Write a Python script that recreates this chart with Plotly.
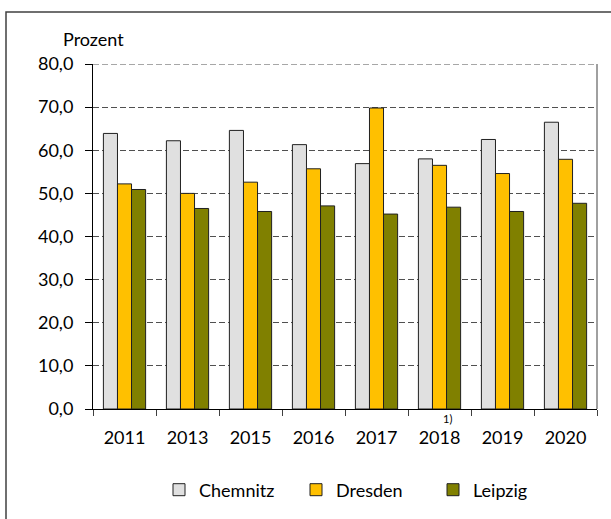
import plotly.graph_objects as go

# Jahre (Kategorien) und Anteile in Prozent je Stadt
jahre = ["2011", "2013", "2015", "2016", "2017", "2018", "2019", "2020"]
chemnitz = [63.9, 62.2, 64.6, 61.3, 56.9, 58.0, 62.5, 66.5]
dresden = [52.2, 50.0, 52.6, 55.7, 69.8, 56.5, 54.6, 57.9]
leipzig = [50.9, 46.5, 45.8, 47.1, 45.2, 46.8, 45.8, 47.7]

y_ticks = [0, 10, 20, 30, 40, 50, 60, 70, 80]
y_tick_text = [f"{v:.1f}".replace(".", ",") for v in y_ticks]

FONT = "Lato, 'Open Sans', sans-serif"

W, H = 611, 519
ML, MR, MT, MB = 93, 14, 64, 110
PW = W - ML - MR
PH = H - MT - MB


def px_x(px):
    return (px - ML) / PW


def px_y(py):
    return (H - MB - py) / PH


fig = go.Figure()
for name, vals, col in [
    ("Chemnitz", chemnitz, "#E0E0E0"),
    ("Dresden", dresden, "#FFC000"),
    ("Leipzig", leipzig, "#808000"),
]:
    fig.add_trace(go.Bar(
        name=name, x=jahre, y=vals,
        marker=dict(color=col, line=dict(color="#202020", width=1)),
        hoverinfo="x+y+name",
    ))

fig.update_layout(
    width=W, height=H,
    margin=dict(l=ML, r=MR, t=MT, b=MB, autoexpand=False),
    paper_bgcolor="white", plot_bgcolor="white",
    barmode="group", bargap=0.33, bargroupgap=0,
    font=dict(family=FONT, size=18, color="#000000"),
    showlegend=True,
    legend=dict(
        orientation="h", x=px_x(159), xanchor="left", y=px_y(490), yanchor="middle",
        font=dict(family=FONT, size=18, color="#000000"),
        entrywidth=92, entrywidthmode="pixels",
        itemclick=False, itemdoubleclick=False,
    ),
    xaxis=dict(
        type="category", tickson="boundaries",
        ticks="outside", ticklen=6, tickcolor="#404040",
        showline=True, linecolor="#000000", linewidth=1,
        showgrid=False, tickfont=dict(size=18),
        ticklabelstandoff=12, automargin=False,
    ),
    yaxis=dict(
        range=[0, 80], tickvals=y_ticks, ticktext=y_tick_text,
        ticks="outside", ticklen=7, tickcolor="#000000",
        showline=True, linecolor="#000000", linewidth=1,
        showgrid=True, gridcolor="#505050", griddash="6px,3px", gridwidth=1,
        zeroline=False, tickfont=dict(size=18),
        ticklabelstandoff=8, automargin=False,
    ),
    shapes=[
        # oberste Gitterlinie bei 80
        dict(type="line", xref="paper", yref="y", x0=0, x1=1, y0=80, y1=80,
             line=dict(color="#505050", width=1, dash="6px,3px")),
        # rechte Begrenzung der Zeichenfläche
        dict(type="line", xref="paper", yref="paper", x0=1, x1=1, y0=0, y1=1,
             line=dict(color="#808080", width=1.5)),
        # äußerer Diagrammrahmen
        dict(type="rect", xref="paper", yref="paper",
             x0=px_x(6), x1=px_x(640), y0=px_y(12), y1=px_y(560),
             line=dict(color="#404040", width=1.5), fillcolor="rgba(0,0,0,0)"),
    ],
    annotations=[
        dict(text="Prozent", xref="paper", yref="paper", x=px_x(61), y=px_y(39),
             xanchor="left", yanchor="middle", showarrow=False,
             font=dict(family=FONT, size=18)),
        dict(text="1)", xref="paper", yref="paper", x=px_x(447), y=px_y(418),
             xanchor="center", yanchor="middle", showarrow=False,
             font=dict(family=FONT, size=11)),
    ],
)

fig.write_html("out.html")
